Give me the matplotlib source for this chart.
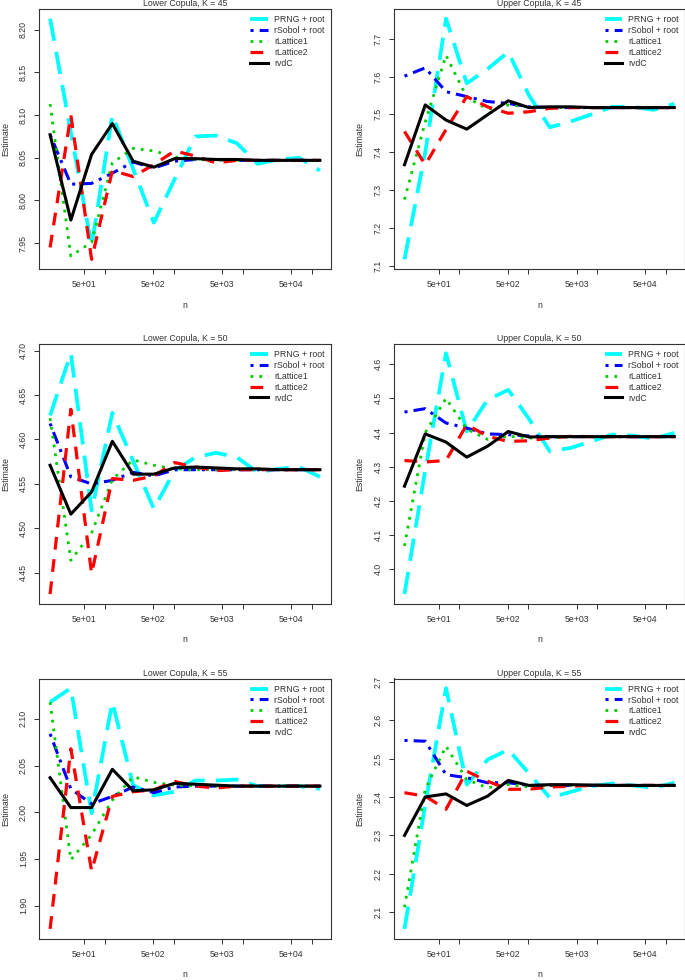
import numpy as np
import matplotlib
matplotlib.use("Agg")
import matplotlib.pyplot as plt

plt.rcParams['font.family'] = ['Liberation Sans', 'DejaVu Sans']

# sample sizes: 2^4 ... 2^17
n = [16, 32, 64, 128, 256, 512, 1024, 2048, 4096, 8192, 16384, 32768, 65536, 131072]

methods = ["PRNG + root", "rSobol + root", "rLattice1", "rLattice2", "rvdC"]

# Lower Copula, K = 45
lower45_prng = [8.213, 8.080, 7.947, 8.100, 8.037, 7.974, 8.025, 8.075, 8.076, 8.067, 8.043, 8.048, 8.050, 8.035]
lower45_sobol = [8.077, 8.019, 8.020, 8.032, 8.045, 8.038, 8.046, 8.048, 8.048, 8.047, 8.047, 8.047, 8.047, 8.047]
lower45_lat1 = [8.113, 7.935, 7.951, 8.044, 8.061, 8.058, 8.051, 8.048, 8.047, 8.047, 8.047, 8.047, 8.047, 8.047]
lower45_lat2 = [7.945, 8.100, 7.931, 8.035, 8.028, 8.042, 8.058, 8.052, 8.044, 8.047, 8.047, 8.047, 8.047, 8.047]
lower45_vdc = [8.077, 7.977, 8.054, 8.090, 8.046, 8.039, 8.049, 8.049, 8.048, 8.048, 8.047, 8.047, 8.047, 8.047]

# Upper Copula, K = 45
upper45_prng = [7.117, 7.400, 7.753, 7.582, 7.620, 7.665, 7.550, 7.466, 7.481, 7.500, 7.520, 7.520, 7.512, 7.528]
upper45_sobol = [7.601, 7.623, 7.560, 7.547, 7.534, 7.529, 7.520, 7.518, 7.518, 7.518, 7.518, 7.518, 7.518, 7.518]
upper45_lat1 = [7.275, 7.480, 7.656, 7.545, 7.514, 7.525, 7.520, 7.518, 7.518, 7.518, 7.518, 7.518, 7.518, 7.518]
upper45_lat2 = [7.455, 7.367, 7.460, 7.547, 7.520, 7.503, 7.507, 7.516, 7.518, 7.518, 7.518, 7.518, 7.518, 7.518]
upper45_vdc = [7.367, 7.525, 7.485, 7.461, 7.499, 7.536, 7.518, 7.520, 7.520, 7.518, 7.518, 7.518, 7.518, 7.518]

# Lower Copula, K = 50
lower50_prng = [4.627, 4.697, 4.520, 4.630, 4.576, 4.522, 4.565, 4.580, 4.585, 4.580, 4.563, 4.567, 4.569, 4.558]
lower50_sobol = [4.618, 4.558, 4.550, 4.554, 4.563, 4.559, 4.566, 4.566, 4.566, 4.566, 4.566, 4.566, 4.566, 4.566]
lower50_lat1 = [4.624, 4.464, 4.495, 4.555, 4.577, 4.571, 4.567, 4.566, 4.566, 4.566, 4.566, 4.566, 4.566, 4.566]
lower50_lat2 = [4.426, 4.634, 4.449, 4.556, 4.554, 4.559, 4.574, 4.569, 4.565, 4.566, 4.566, 4.566, 4.566, 4.566]
lower50_vdc = [4.571, 4.516, 4.541, 4.598, 4.561, 4.561, 4.568, 4.569, 4.568, 4.567, 4.567, 4.566, 4.566, 4.566]

# Upper Copula, K = 50
upper50_prng = [3.927, 4.290, 4.632, 4.403, 4.496, 4.525, 4.440, 4.345, 4.355, 4.374, 4.394, 4.391, 4.382, 4.399]
upper50_sobol = [4.460, 4.470, 4.428, 4.413, 4.396, 4.394, 4.390, 4.388, 4.388, 4.388, 4.388, 4.388, 4.388, 4.388]
upper50_lat1 = [4.068, 4.400, 4.500, 4.410, 4.380, 4.389, 4.384, 4.384, 4.388, 4.388, 4.388, 4.388, 4.388, 4.388]
upper50_lat2 = [4.318, 4.314, 4.318, 4.423, 4.389, 4.374, 4.376, 4.384, 4.389, 4.388, 4.388, 4.388, 4.388, 4.388]
upper50_vdc = [4.243, 4.396, 4.372, 4.328, 4.360, 4.403, 4.387, 4.388, 4.388, 4.388, 4.388, 4.388, 4.388, 4.388]

# Lower Copula, K = 55
lower55_prng = [2.118, 2.133, 1.999, 2.118, 2.029, 2.018, 2.022, 2.034, 2.034, 2.035, 2.028, 2.028, 2.028, 2.025]
lower55_sobol = [2.084, 2.025, 2.009, 2.017, 2.027, 2.021, 2.027, 2.028, 2.028, 2.028, 2.028, 2.028, 2.028, 2.028]
lower55_lat1 = [2.118, 1.949, 1.976, 2.013, 2.038, 2.032, 2.029, 2.028, 2.028, 2.028, 2.028, 2.028, 2.028, 2.028]
lower55_lat2 = [1.875, 2.068, 1.937, 2.017, 2.022, 2.024, 2.033, 2.028, 2.026, 2.028, 2.028, 2.028, 2.028, 2.028]
lower55_vdc = [2.037, 2.005, 2.005, 2.046, 2.023, 2.024, 2.031, 2.030, 2.029, 2.028, 2.028, 2.028, 2.028, 2.028]

# Upper Copula, K = 55
upper55_prng = [2.057, 2.380, 2.683, 2.432, 2.497, 2.523, 2.461, 2.398, 2.413, 2.428, 2.435, 2.430, 2.424, 2.437]
upper55_sobol = [2.547, 2.545, 2.458, 2.450, 2.437, 2.437, 2.430, 2.430, 2.430, 2.430, 2.430, 2.430, 2.430, 2.430]
upper55_lat1 = [2.113, 2.420, 2.532, 2.445, 2.424, 2.432, 2.426, 2.430, 2.430, 2.430, 2.430, 2.430, 2.430, 2.430]
upper55_lat2 = [2.411, 2.402, 2.368, 2.467, 2.441, 2.420, 2.420, 2.426, 2.428, 2.430, 2.430, 2.430, 2.430, 2.430]
upper55_vdc = [2.300, 2.400, 2.408, 2.378, 2.402, 2.443, 2.430, 2.432, 2.432, 2.431, 2.430, 2.430, 2.430, 2.430]

panels = [
    ("Lower Copula, K = 45", [lower45_prng, lower45_sobol, lower45_lat1, lower45_lat2, lower45_vdc],
     [7.95, 8.00, 8.05, 8.10, 8.15, 8.20], "%.2f"),
    ("Upper Copula, K = 45", [upper45_prng, upper45_sobol, upper45_lat1, upper45_lat2, upper45_vdc],
     [7.1, 7.2, 7.3, 7.4, 7.5, 7.6, 7.7], "%.1f"),
    ("Lower Copula, K = 50", [lower50_prng, lower50_sobol, lower50_lat1, lower50_lat2, lower50_vdc],
     [4.45, 4.50, 4.55, 4.60, 4.65, 4.70], "%.2f"),
    ("Upper Copula, K = 50", [upper50_prng, upper50_sobol, upper50_lat1, upper50_lat2, upper50_vdc],
     [4.0, 4.1, 4.2, 4.3, 4.4, 4.5, 4.6], "%.1f"),
    ("Lower Copula, K = 55", [lower55_prng, lower55_sobol, lower55_lat1, lower55_lat2, lower55_vdc],
     [1.90, 1.95, 2.00, 2.05, 2.10], "%.2f"),
    ("Upper Copula, K = 55", [upper55_prng, upper55_sobol, upper55_lat1, upper55_lat2, upper55_vdc],
     [2.1, 2.2, 2.3, 2.4, 2.5, 2.6, 2.7], "%.1f"),
]

xticks = [50, 100, 500, 1000, 5000, 10000, 50000, 100000]
xticklabels = ["5e+01", "", "5e+02", "", "5e+03", "", "5e+04", ""]

styles = [
    dict(color="#00FFFF", lw=2.7, ls=(0, (6, 3))),
    dict(color="#0000FF", lw=2.2, ls=(0, (1, 2, 4, 2))),
    dict(color="#00CD00", lw=2.0, ls=(0, (1, 2.2))),
    dict(color="#FF0000", lw=2.3, ls=(0, (4, 3))),
    dict(color="black", lw=2.2, ls="-"),
]

W, H = 685.0, 980.0
fig = plt.figure(figsize=(W / 100, H / 100), dpi=100)

col_left = [39.3, 393.7]
row_top = [9.0, 343.7, 678.5]
box_w, box_h = 291.4, 260.0
fs = 6.3
txt = "#333333"


def pad_range(lo, hi, frac=0.04):
    d = hi - lo
    return lo - frac * d, hi + frac * d


for i, (title, series, yticks, fmt) in enumerate(panels):
    r, c = divmod(i, 2)
    ax = fig.add_axes([col_left[c] / W, 1 - (row_top[r] + box_h) / H, box_w / W, box_h / H])
    for vals, lab, st in zip(series, methods, styles):
        ax.plot(n, vals, label=lab, color=st["color"], linewidth=st["lw"],
                linestyle=st["ls"], dash_capstyle="butt")
    ax.set_xscale("log")
    lx0, lx1 = pad_range(np.log10(n[0]), np.log10(n[-1]))
    ax.set_xlim(10 ** lx0, 10 ** lx1)
    allv = np.concatenate([np.asarray(s) for s in series])
    ax.set_ylim(*pad_range(allv.min(), allv.max()))
    ax.set_xticks(xticks)
    ax.set_xticklabels(xticklabels)
    ax.xaxis.set_minor_locator(matplotlib.ticker.NullLocator())
    ax.set_yticks(yticks)
    ax.set_yticklabels([fmt % v for v in yticks], rotation=90, va="center")
    ax.tick_params(direction="out", length=3.6, width=0.7, labelsize=fs,
                   colors=txt, labelcolor=txt, pad=4.5)
    for sp in ax.spines.values():
        sp.set_color(txt)
        sp.set_linewidth(0.8)
    ax.set_title(title, fontsize=fs, color=txt, pad=2)
    ax.set_xlabel("n", fontsize=fs, color=txt)
    ax.xaxis.set_label_coords(0.5, -36.0 / box_h)
    ax.xaxis.label.set_verticalalignment("center")
    ax.set_ylabel("Estimate", fontsize=fs, color=txt)
    ax.yaxis.set_label_coords(-33.5 / box_w, 0.5)
    ax.yaxis.label.set_verticalalignment("center")
    leg = ax.legend(loc="upper right", frameon=False, fontsize=fs,
                    handlelength=2.0, handletextpad=0.7, labelspacing=0.22,
                    borderaxespad=0.35, borderpad=0.35)
    for t in leg.get_texts():
        t.set_color(txt)

fig.savefig("out.png", dpi=100)
